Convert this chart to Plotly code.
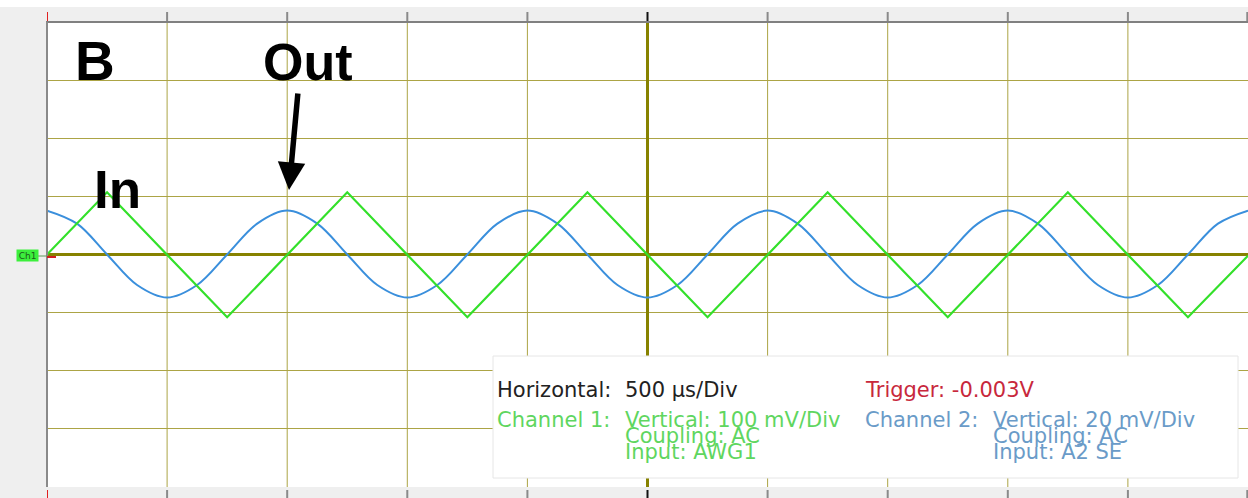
import plotly.graph_objects as go

# ---- data (read from the screen) ----
# time in ms relative to the trigger (screen centre), 500 us/div
ch1_t = [-2.5, -2.25, -1.75, -1.25, -0.75, -0.25, 0.25, 0.75, 1.25, 1.75, 2.25, 2.5]
ch1_mv = [0, 107, -108, 107, -108, 107, -108, 107, -108, 107, -108, -2]   # triangle, 100 mV/div

ch2_t = [-2.5 + 0.125 * i for i in range(41)]
ch2_mv = [15.1, 10.6, 0, -10.5, -14.8, -10.5, 0, 10.6,
          15.1, 10.6, 0, -10.5, -14.8, -10.5, 0, 10.6,
          15.1, 10.6, 0, -10.5, -14.8, -10.5, 0, 10.6,
          15.1, 10.6, 0, -10.5, -14.8, -10.5, 0, 10.6,
          15.1, 10.6, 0, -10.5, -14.8, -10.5, 0, 10.6, 15.1]                # sine, 20 mV/div

ch1_scale = 100.0   # mV/div
ch2_scale = 20.0    # mV/div

x_ticks = [-2.5 + 0.5 * i for i in range(11)]

info_rows = [
    ("Horizontal:", "500 µs/Div", "Trigger: -0.003V", ""),
    ("Channel 1:", "Vertical: 100 mV/Div", "Channel 2:", "Vertical: 20 mV/Div"),
    ("", "Coupling: AC", "", "Coupling: AC"),
    ("", "Input: AWG1", "", "Input: A2 SE"),
]

# ---- layout helpers (pixel -> paper) ----
W, H = 1248, 498
PL, PR, PT, PB = 47, 1248, 22, 487


def pxx(px):
    return (px - PL) / (PR - PL)


def pxy(py):
    return (PB - py) / (PB - PT)


GRID = "#aca445"
CENTER = "#878200"
GREEN = "#33e02a"
BLUE = "#3a8fdc"

fig = go.Figure()
fig.add_trace(go.Scatter(
    x=ch2_t, y=[v / ch2_scale for v in ch2_mv], mode="lines",
    line=dict(color=BLUE, width=2, shape="spline", smoothing=1.0),
    hoverinfo="skip", showlegend=False))
fig.add_trace(go.Scatter(
    x=ch1_t, y=[v / ch1_scale for v in ch1_mv], mode="lines",
    line=dict(color=GREEN, width=2.2),
    hoverinfo="skip", showlegend=False))

shapes = []
# white strip at very top
shapes.append(dict(type="rect", xref="paper", yref="paper", x0=pxx(0), x1=1.0,
                   y0=pxy(7), y1=pxy(-2), fillcolor="white", line_width=0, layer="below"))
# vertical grid lines (olive)
for t in x_ticks[1:-1]:
    if abs(t) < 1e-9:
        continue
    shapes.append(dict(type="line", xref="x", yref="paper", x0=t, x1=t, y0=0, y1=1,
                       line=dict(color=GRID, width=1), layer="below"))
# info box
shapes.append(dict(type="rect", xref="paper", yref="paper", x0=pxx(493), x1=pxx(1238),
                   y0=pxy(478), y1=pxy(356), fillcolor="white",
                   line=dict(color="#e6e6e6", width=1), layer="above"))
# borders
shapes.append(dict(type="line", xref="paper", yref="paper", x0=pxx(46), x1=1.0,
                   y0=1.0, y1=1.0, line=dict(color="#808080", width=2)))
shapes.append(dict(type="line", xref="paper", yref="paper", x0=0.0, x1=0.0,
                   y0=0.0, y1=1.0, line=dict(color="#8a8a8a", width=2)))
# tick marks in top and bottom bands
for i, t in enumerate(x_ticks):
    if i == 0:
        col = "#e02020"
    elif abs(t) < 1e-9:
        col = "#111111"
    else:
        col = "#8a8a8a"
    xx = t if i < len(x_ticks) - 1 else t - 0.003
    shapes.append(dict(type="line", xref="x", yref="paper", x0=xx, x1=xx,
                       y0=pxy(21), y1=pxy(12), line=dict(color=col, width=2)))
    shapes.append(dict(type="line", xref="x", yref="paper", x0=xx, x1=xx,
                       y0=pxy(498), y1=pxy(490), line=dict(color=col, width=2)))
# ch1 marker connector + trigger level stub
shapes.append(dict(type="line", xref="paper", yref="paper", x0=pxx(38), x1=pxx(47),
                   y0=pxy(256), y1=pxy(256), line=dict(color="#5a9a5a", width=1)))
shapes.append(dict(type="line", xref="paper", yref="paper", x0=pxx(47), x1=pxx(56),
                   y0=pxy(257), y1=pxy(257), line=dict(color="#d02020", width=2)))

ann = []
# big labels
FAM = "Liberation Sans, Arial, sans-serif"
ann.append(dict(xref="paper", yref="paper", x=pxx(73), y=pxy(61), text="<b>B</b>",
                showarrow=False, xanchor="left", yanchor="middle",
                font=dict(family=FAM, size=55, color="black")))
ann.append(dict(xref="paper", yref="paper", x=pxx(261), y=pxy(62), text="<b>Out</b>",
                showarrow=False, xanchor="left", yanchor="middle",
                font=dict(family=FAM, size=52, color="black")))
ann.append(dict(xref="paper", yref="paper", x=pxx(92), y=pxy(189), text="<b>In</b>",
                showarrow=False, xanchor="left", yanchor="middle",
                font=dict(family=FAM, size=53, color="black")))
# arrow
ann.append(dict(xref="x", yref="y", x=(289 - 647.5) / 240.2, y=(254.5 - 190) / 58.125,
                ax=9, ay=-98, text="", showarrow=True, arrowhead=2, arrowsize=1.0,
                arrowwidth=5.5, arrowcolor="black"))
# Ch1 marker
ann.append(dict(xref="paper", yref="paper", x=pxx(27), y=pxy(256), text="Ch1",
                showarrow=False, xanchor="center", yanchor="middle",
                bgcolor="#3cef3c", width=21, height=11, borderpad=0,
                font=dict(family="DejaVu Sans, sans-serif", size=9, color="#1b5e1b")))

# info text
INFO = "DejaVu Sans, Verdana, sans-serif"
FS = 21
row_y = [390, 420, 436, 451.5]
col_x = [495, 623, 863, 991]
row_colors = [
    ["#222222", "#222222", "#c8283c", "#6a9bc8"],
    ["#5fd65f", "#5fd65f", "#6a9bc8", "#6a9bc8"],
    ["#5fd65f", "#5fd65f", "#6a9bc8", "#6a9bc8"],
    ["#5fd65f", "#5fd65f", "#6a9bc8", "#6a9bc8"],
]
for r, row in enumerate(info_rows):
    for c, txt in enumerate(row):
        if not txt:
            continue
        ann.append(dict(xref="paper", yref="paper", x=pxx(col_x[c]), y=pxy(row_y[r]),
                        text=txt, showarrow=False, xanchor="left", yanchor="middle",
                        font=dict(family=INFO, size=FS, color=row_colors[r][c])))

fig.update_layout(
    width=W, height=H, autosize=False,
    margin=dict(l=PL, r=W - PR, t=PT, b=H - PB, pad=0),
    paper_bgcolor="#efefef", plot_bgcolor="white",
    shapes=shapes, annotations=ann, showlegend=False,
    xaxis=dict(range=[-2.5, 2.5], tickmode="array", tickvals=x_ticks,
               showgrid=False,
               zeroline=True, zerolinecolor=CENTER, zerolinewidth=3,
               showticklabels=False, ticks="", showline=False, fixedrange=True),
    yaxis=dict(range=[-4, 4], dtick=1, tick0=0,
               showgrid=True, gridcolor=GRID, gridwidth=1,
               zeroline=True, zerolinecolor=CENTER, zerolinewidth=3,
               showticklabels=False, ticks="", showline=False, fixedrange=True),
)

fig.write_html("out.html", config={"displayModeBar": False},
               post_script="document.body.style.margin='0';document.body.style.overflow='hidden';")
